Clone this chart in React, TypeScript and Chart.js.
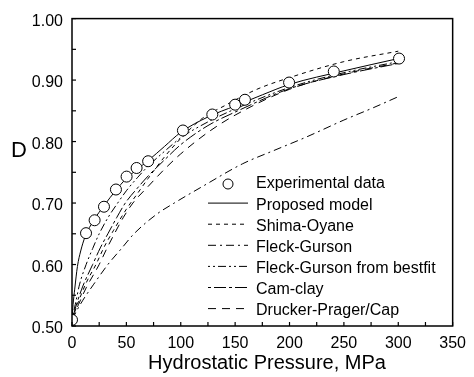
import React, { useEffect, useRef } from "react";
import { Chart, registerables } from "chart.js";

Chart.register(...registerables);

const FONT = "'Liberation Sans', Arial, Helvetica, sans-serif";

// Experimental data
const expP = [0, 12.9, 20.8, 29.4, 40.4, 50.2, 59.4, 70, 102, 129, 150, 159, 199.6, 240.7, 300.7];
const expD = [0.51, 0.651, 0.672, 0.694, 0.722, 0.743, 0.757, 0.768, 0.818, 0.844, 0.86, 0.868, 0.896, 0.914, 0.935];

// Proposed model
const propP = [0, 1, 2.5, 5, 8, 12, 20, 30, 40, 50, 60, 70, 85, 100, 125, 150, 175, 200, 250, 300];
const propD = [0.51, 0.535, 0.56, 0.597, 0.622, 0.645, 0.672, 0.697, 0.72, 0.74, 0.755, 0.769, 0.792, 0.815, 0.84, 0.858, 0.876, 0.893, 0.915, 0.935];

// Shima-Oyane
const shimaP = [0, 6, 13, 22, 30, 38, 50, 60, 70, 85, 100, 120, 140, 170, 200, 250, 300];
const shimaD = [0.51, 0.54, 0.57, 0.6, 0.63, 0.655, 0.69, 0.715, 0.74, 0.775, 0.805, 0.838, 0.858, 0.885, 0.904, 0.93, 0.947];

// Fleck-Gurson
const fgP = [0, 5, 10, 20, 33, 45, 57, 78, 94, 120, 157, 185, 215, 250, 277, 300];
const fgD = [0.51, 0.527, 0.542, 0.568, 0.6, 0.625, 0.65, 0.682, 0.7, 0.727, 0.764, 0.785, 0.807, 0.835, 0.855, 0.873];

// Fleck-Gurson from bestfit
const fgbP = [0, 3, 7, 13, 19, 25, 33, 42, 50, 60, 70, 85, 100, 125, 150, 200, 250, 300];
const fgbD = [0.51, 0.535, 0.568, 0.6, 0.626, 0.65, 0.676, 0.7, 0.72, 0.741, 0.76, 0.784, 0.806, 0.832, 0.853, 0.888, 0.912, 0.93];

// Cam-clay
const camP = [0, 5, 10, 19, 26, 33, 41, 49, 60, 70, 85, 100, 125, 150, 200, 250, 300];
const camD = [0.51, 0.54, 0.565, 0.6, 0.627, 0.65, 0.676, 0.7, 0.724, 0.744, 0.77, 0.795, 0.826, 0.848, 0.886, 0.909, 0.927];

// Drucker-Prager/Cap
const dpP = [0, 6, 13, 25, 32, 39, 47, 56, 70, 85, 100, 125, 150, 200, 250, 300];
const dpD = [0.51, 0.535, 0.562, 0.6, 0.626, 0.65, 0.676, 0.7, 0.727, 0.755, 0.78, 0.815, 0.843, 0.885, 0.91, 0.928];

const legendLabels = [
  "Experimental data",
  "Proposed model",
  "Shima-Oyane",
  "Fleck-Gurson",
  "Fleck-Gurson from bestfit",
  "Cam-clay",
  "Drucker-Prager/Cap",
];

const xTitle = "Hydrostatic Pressure, MPa";
const yTitle = "D";

const toPts = (xs: number[], ys: number[]) => xs.map((x, i) => ({ x, y: ys[i] }));

const dashes: (number[] | null)[] = [
  null,
  [],
  [4, 4],
  [8, 4, 2, 4],
  [2, 3, 2, 3, 8, 3],
  [3, 3, 12, 3],
  [8, 6],
];

const decorPlugin = {
  id: "decor",
  afterDraw(chart: any) {
    const ctx = chart.ctx as CanvasRenderingContext2D;
    const { left, right, top, bottom } = chart.chartArea;
    ctx.save();
    // frame
    ctx.strokeStyle = "#000";
    ctx.lineWidth = 1.5;
    ctx.setLineDash([]);
    ctx.strokeRect(left, top, right - left, bottom - top);
    // inward ticks
    ctx.lineWidth = 1.2;
    const xs = chart.scales.x;
    xs.ticks.forEach((t: any) => {
      const px = xs.getPixelForValue(t.value);
      ctx.beginPath();
      ctx.moveTo(px, bottom);
      ctx.lineTo(px, bottom - 4);
      ctx.stroke();
    });
    const ys = chart.scales.y;
    ys.ticks.forEach((t: any) => {
      const py = ys.getPixelForValue(t.value);
      ctx.beginPath();
      ctx.moveTo(left, py);
      ctx.lineTo(left + 4, py);
      ctx.stroke();
    });
    // titles
    ctx.fillStyle = "#000";
    ctx.font = `20px ${FONT}`;
    ctx.textAlign = "center";
    ctx.textBaseline = "alphabetic";
    ctx.fillText(xTitle, 267, 369);
    ctx.font = `22px ${FONT}`;
    ctx.textAlign = "left";
    ctx.fillText(yTitle, 11, 157);
    // legend
    const rowY0 = 184;
    const rowStep = 21.1;
    ctx.font = `16px ${FONT}`;
    ctx.textBaseline = "middle";
    legendLabels.forEach((lab, i) => {
      const y = rowY0 + i * rowStep;
      const d = dashes[i];
      if (d === null) {
        ctx.beginPath();
        ctx.setLineDash([]);
        ctx.lineWidth = 1;
        ctx.fillStyle = "#fff";
        ctx.arc(228, y, 5, 0, Math.PI * 2);
        ctx.fill();
        ctx.stroke();
      } else {
        ctx.beginPath();
        ctx.setLineDash(d);
        ctx.lineWidth = 1;
        ctx.moveTo(208, y - 2);
        ctx.lineTo(248, y - 2);
        ctx.stroke();
      }
      ctx.setLineDash([]);
      ctx.fillStyle = "#000";
      ctx.fillText(lab, 256, y);
    });
    ctx.restore();
  },
};

export default function App() {
  const ref = useRef<HTMLCanvasElement | null>(null);
  useEffect(() => {
    if (!ref.current) return;
    const lineDs = (label: string, xs: number[], ys: number[], dash: number[]) => ({
      label,
      data: toPts(xs, ys),
      showLine: true,
      borderColor: "#000",
      borderWidth: 1,
      borderDash: dash,
      pointRadius: 0,
      fill: false,
      cubicInterpolationMode: "monotone" as const,
      order: 2,
    });
    const chart = new Chart(ref.current, {
      type: "scatter",
      data: {
        datasets: [
          {
            label: legendLabels[0],
            data: toPts(expP, expD),
            showLine: false,
            pointRadius: 5.5,
            pointBorderWidth: 1,
            pointBackgroundColor: "#fff",
            pointBorderColor: "#000",
            order: 0,
          },
          lineDs(legendLabels[1], propP, propD, []),
          lineDs(legendLabels[2], shimaP, shimaD, dashes[2] as number[]),
          lineDs(legendLabels[3], fgP, fgD, dashes[3] as number[]),
          lineDs(legendLabels[4], fgbP, fgbD, dashes[4] as number[]),
          lineDs(legendLabels[5], camP, camD, dashes[5] as number[]),
          lineDs(legendLabels[6], dpP, dpD, dashes[6] as number[]),
        ],
      },
      options: {
        responsive: false,
        animation: false,
        layout: { padding: { left: 0, top: 12, right: 21, bottom: 0 } },
        plugins: { legend: { display: false }, tooltip: { enabled: false } },
        scales: {
          x: {
            type: "linear",
            min: 0,
            max: 350,
            grid: { display: false, drawTicks: false },
            border: { display: false },
            ticks: {
              stepSize: 25,
              autoSkip: false,
              maxRotation: 0,
              padding: 8,
              color: "#000",
              font: { family: FONT, size: 16 },
              callback: (v: any) => (Math.round(v) % 50 === 0 ? String(Math.round(v)) : ""),
            },
            afterFit: (s: any) => {
              s.height = 51;
            },
          },
          y: {
            type: "linear",
            min: 0.5,
            max: 1.0,
            grid: { display: false, drawTicks: false },
            border: { display: false },
            ticks: {
              stepSize: 0.05,
              autoSkip: false,
              padding: 9,
              labelOffset: 3,
              color: "#000",
              font: { family: FONT, size: 16 },
              callback: (v: any) => (Math.round(v * 100) % 10 === 0 ? Number(v).toFixed(2) : ""),
            },
            afterFit: (s: any) => {
              s.width = 72;
            },
          },
        },
      },
      plugins: [decorPlugin],
    });
    return () => chart.destroy();
  }, []);
  return (
    <div style={{ position: "absolute", left: 0, top: 0, width: 474, height: 377, background: "#fff" }}>
      <canvas ref={ref} width={474} height={377} />
    </div>
  );
}
